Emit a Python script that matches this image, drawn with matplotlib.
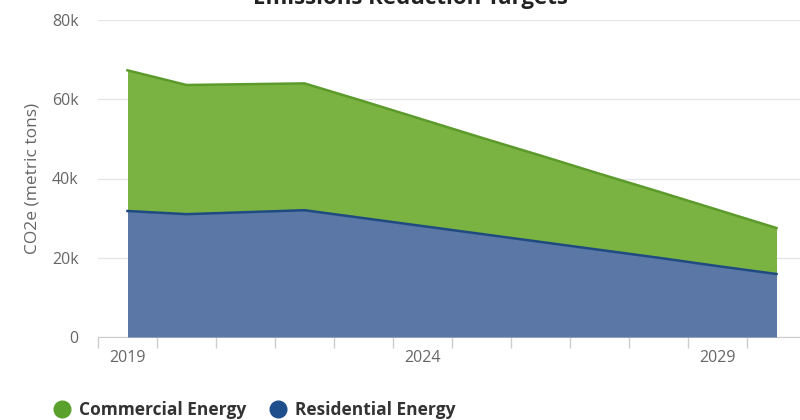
import matplotlib.pyplot as plt
from matplotlib.lines import Line2D
import numpy as np

# data (thousand metric tons CO2e)
years = list(range(2019, 2031))
residential = [31.8, 31.0, 31.5, 32.0, 30.0, 28.0, 26.0, 24.0, 22.0, 20.0, 17.9, 15.9]
commercial = [35.5, 32.6, 32.3, 32.0, 29.5, 26.9, 24.3, 21.8, 19.2, 16.7, 14.2, 11.6]
y_ticks = [0, 20000, 40000, 60000, 80000]
y_tick_labels = ["0", "20k", "40k", "60k", "80k"]
x_label_years = [2019, 2024, 2029]

plt.rcParams["font.family"] = ["Open Sans", "DejaVu Sans"]

green_fill = "#7ab342"
green_line = "#5b9a2b"
blue_fill = "#5a77a5"
blue_line = "#1f4a82"
grey_text = "#666666"

res = np.array(residential) * 1000
com = np.array(commercial) * 1000
total = res + com
x = np.arange(len(years))

fig = plt.figure(figsize=(8, 4.2), dpi=100)
ax = fig.add_axes([98 / 800, 83 / 420, 708 / 800, 317 / 420])

ax.fill_between(x, 0, res, color=blue_fill, linewidth=0, zorder=2)
ax.fill_between(x, res, total, color=green_fill, linewidth=0, zorder=2)
ax.plot(x, total, color=green_line, linewidth=1.8, zorder=3)
ax.plot(x, res, color=blue_line, linewidth=1.8, zorder=3)

ax.set_xlim(-0.5, len(years) - 0.5)
ax.set_ylim(0, 80000)

ax.set_yticks(y_ticks)
ax.set_yticklabels(y_tick_labels)
ax.yaxis.grid(True, color="#e6e6e6", linewidth=1, zorder=0)
ax.tick_params(axis="y", length=0, pad=14, labelsize=11.5, labelcolor=grey_text)

# tick marks sit between categories, labels every 5 years
ax.set_xticks(np.arange(-0.5, len(years), 1.0))
ax.set_xticklabels([])
ax.set_xticks([years.index(yr) for yr in x_label_years], minor=True)
ax.set_xticklabels([str(yr) for yr in x_label_years], minor=True)
ax.tick_params(axis="x", which="major", length=8, color="#cccccc", width=1)
ax.tick_params(axis="x", which="minor", length=0, pad=9, labelsize=11.5, labelcolor=grey_text)

for side in ["top", "right", "left"]:
    ax.spines[side].set_visible(False)
ax.spines["bottom"].set_color("#cccccc")
ax.spines["bottom"].set_zorder(1)

ax.set_ylabel("CO2e (metric tons)", fontsize=12.5, color=grey_text, labelpad=8)

# title sits mostly above the top edge, as in the reference
fig.text(410 / 800, 1 - 4 / 420, "Emissions Reduction Targets", ha="center", va="baseline",
         fontsize=16, fontweight="bold", color="#222222")

handles = [
    Line2D([], [], marker="o", linestyle="none", markersize=12, color="#5aa02c"),
    Line2D([], [], marker="o", linestyle="none", markersize=12, color="#1f4e8c"),
]
fig.legend(handles, ["Commercial Energy", "Residential Energy"], loc="center left",
           bbox_to_anchor=(38 / 800, 10 / 420), ncol=2, frameon=False,
           handlelength=1.0, handletextpad=0.45, columnspacing=1.35,
           prop={"size": 12.5, "weight": "bold"}, labelcolor="#333333")

fig.savefig("out.png", dpi=100)
